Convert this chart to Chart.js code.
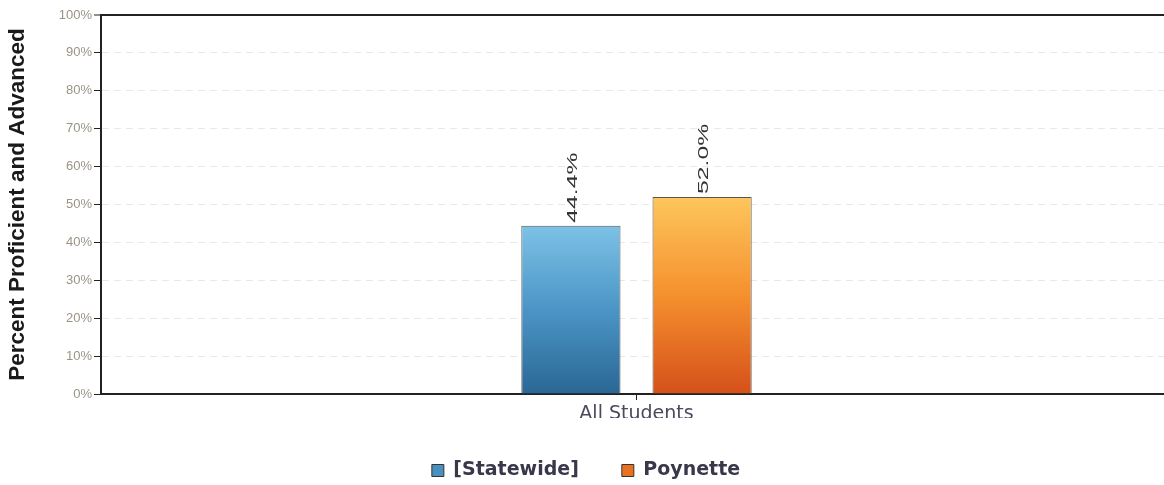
<!DOCTYPE html>
<html>
<head>
<meta charset="utf-8">
<script src="https://cdn.jsdelivr.net/npm/chart.js@4/dist/chart.umd.min.js"></script>
<style>
  html, body { margin: 0; padding: 0; background: #fff; overflow: hidden; }
  #chart { display: block; }
</style>
</head>
<body>
<canvas id="chart" width="1172" height="490"></canvas>
<script>
const categories = ["All Students"];
const seriesNames = ["[Statewide]", "Poynette"];
const statewide = [44.4];
const poynette = [52.0];
const yTicks = [0, 10, 20, 30, 40, 50, 60, 70, 80, 90, 100];

// top/bottom shades for each bar, plus a flat swatch for the legend
const shades = [
  { top: "#7dc2e6", mid: "#4b95c6", bottom: "#2a6794", swatch: "#4a8fc0" },
  { top: "#fdc65c", mid: "#f5902e", bottom: "#d5501a", swatch: "#e8721f" }
];

function barFill(i) {
  return ctx => {
    const chart = ctx.chart;
    const y = chart.scales && chart.scales.y;
    if (!chart.chartArea || !y || ctx.parsed == null) return shades[i].mid;
    const top = y.getPixelForValue(ctx.parsed.y);
    const base = y.getPixelForValue(0);
    const g = chart.ctx.createLinearGradient(0, top, 0, base);
    g.addColorStop(0, shades[i].top);
    g.addColorStop(0.5, shades[i].mid);
    g.addColorStop(1, shades[i].bottom);
    return g;
  };
}

// value labels standing upright above each bar
const valueLabels = {
  id: "valueLabels",
  afterDatasetsDraw(chart) {
    const c = chart.ctx;
    chart.data.datasets.forEach((ds, di) => {
      chart.getDatasetMeta(di).data.forEach((bar, i) => {
        c.save();
        c.translate(bar.x + 2, bar.y - 3);
        c.rotate(-Math.PI / 2);
        c.scale(1.65, 1);
        c.font = "15px 'Liberation Sans', Arial, sans-serif";
        c.fillStyle = "#333";
        c.textAlign = "left";
        c.textBaseline = "middle";
        c.fillText(ds.data[i].toFixed(1) + "%", 0, 0);
        c.restore();
      });
    });
  }
};

new Chart(document.getElementById("chart"), {
  type: "bar",
  data: {
    labels: categories,
    datasets: [
      { label: seriesNames[0], data: statewide, backgroundColor: barFill(0), borderColor: "#555", borderWidth: 1 },
      { label: seriesNames[1], data: poynette, backgroundColor: barFill(1), borderColor: "#555", borderWidth: 1 }
    ]
  },
  options: {
    responsive: false,
    animation: false,
    devicePixelRatio: 1,
    categoryPercentage: 0.245,
    barPercentage: 0.756,
    layout: { padding: { top: 15, left: 0, right: 0, bottom: 0 } },
    plugins: {
      tooltip: { enabled: false },
      legend: {
        position: "bottom",
        labels: {
          boxWidth: 12,
          boxHeight: 12,
          padding: 43,
          color: "#38384a",
          font: { family: "'DejaVu Sans', Verdana, sans-serif", size: 19, weight: "bold" },
          generateLabels: chart => chart.data.datasets.map((ds, i) => ({
            text: ds.label,
            fillStyle: shades[i].swatch,
            strokeStyle: "#333",
            lineWidth: 1,
            fontColor: "#38384a",
            datasetIndex: i
          }))
        }
      }
    },
    scales: {
      x: {
        afterFit: s => { s.height = 24; },
        grid: {
          display: true,
          drawOnChartArea: false,
          offset: false,
          tickLength: 6,
          tickColor: "#222",
          tickWidth: 1
        },
        border: { display: true, color: "#222", width: 2 },
        ticks: {
          padding: 3,
          color: "#4a4a5e",
          font: { family: "'DejaVu Sans', Verdana, sans-serif", size: 19 }
        }
      },
      y: {
        min: 0,
        max: 100,
        afterFit: s => { s.width = 101; },
        afterBuildTicks: s => { s.ticks = yTicks.map(v => ({ value: v })); },
        grid: {
          color: c => c.tick && c.tick.value === 100 ? "#222" : (c.tick && c.tick.value === 0 ? "rgba(0,0,0,0)" : "rgba(0,0,0,0.09)"),
          lineWidth: c => c.tick && c.tick.value === 100 ? 2 : 1,
          tickLength: 7,
          tickColor: "#222",
          tickWidth: 1,
          tickBorderDash: []
        },
        border: {
          display: true,
          color: "#222",
          width: 2,
          dash: c => c.tick && c.tick.value === 100 ? [] : [7, 5]
        },
        ticks: {
          padding: 2,
          color: "#9a9482",
          font: { family: "'Liberation Sans', Arial, sans-serif", size: 13 },
          callback: v => v + "%"
        },
        title: {
          display: true,
          text: "Percent Proficient and Advanced",
          color: "#1a1a1a",
          padding: { top: 4, bottom: 0 },
          font: { family: "'Liberation Sans', Arial, sans-serif", size: 22.5, weight: "bold" }
        }
      }
    }
  },
  plugins: [valueLabels]
});
</script>
</body>
</html>
